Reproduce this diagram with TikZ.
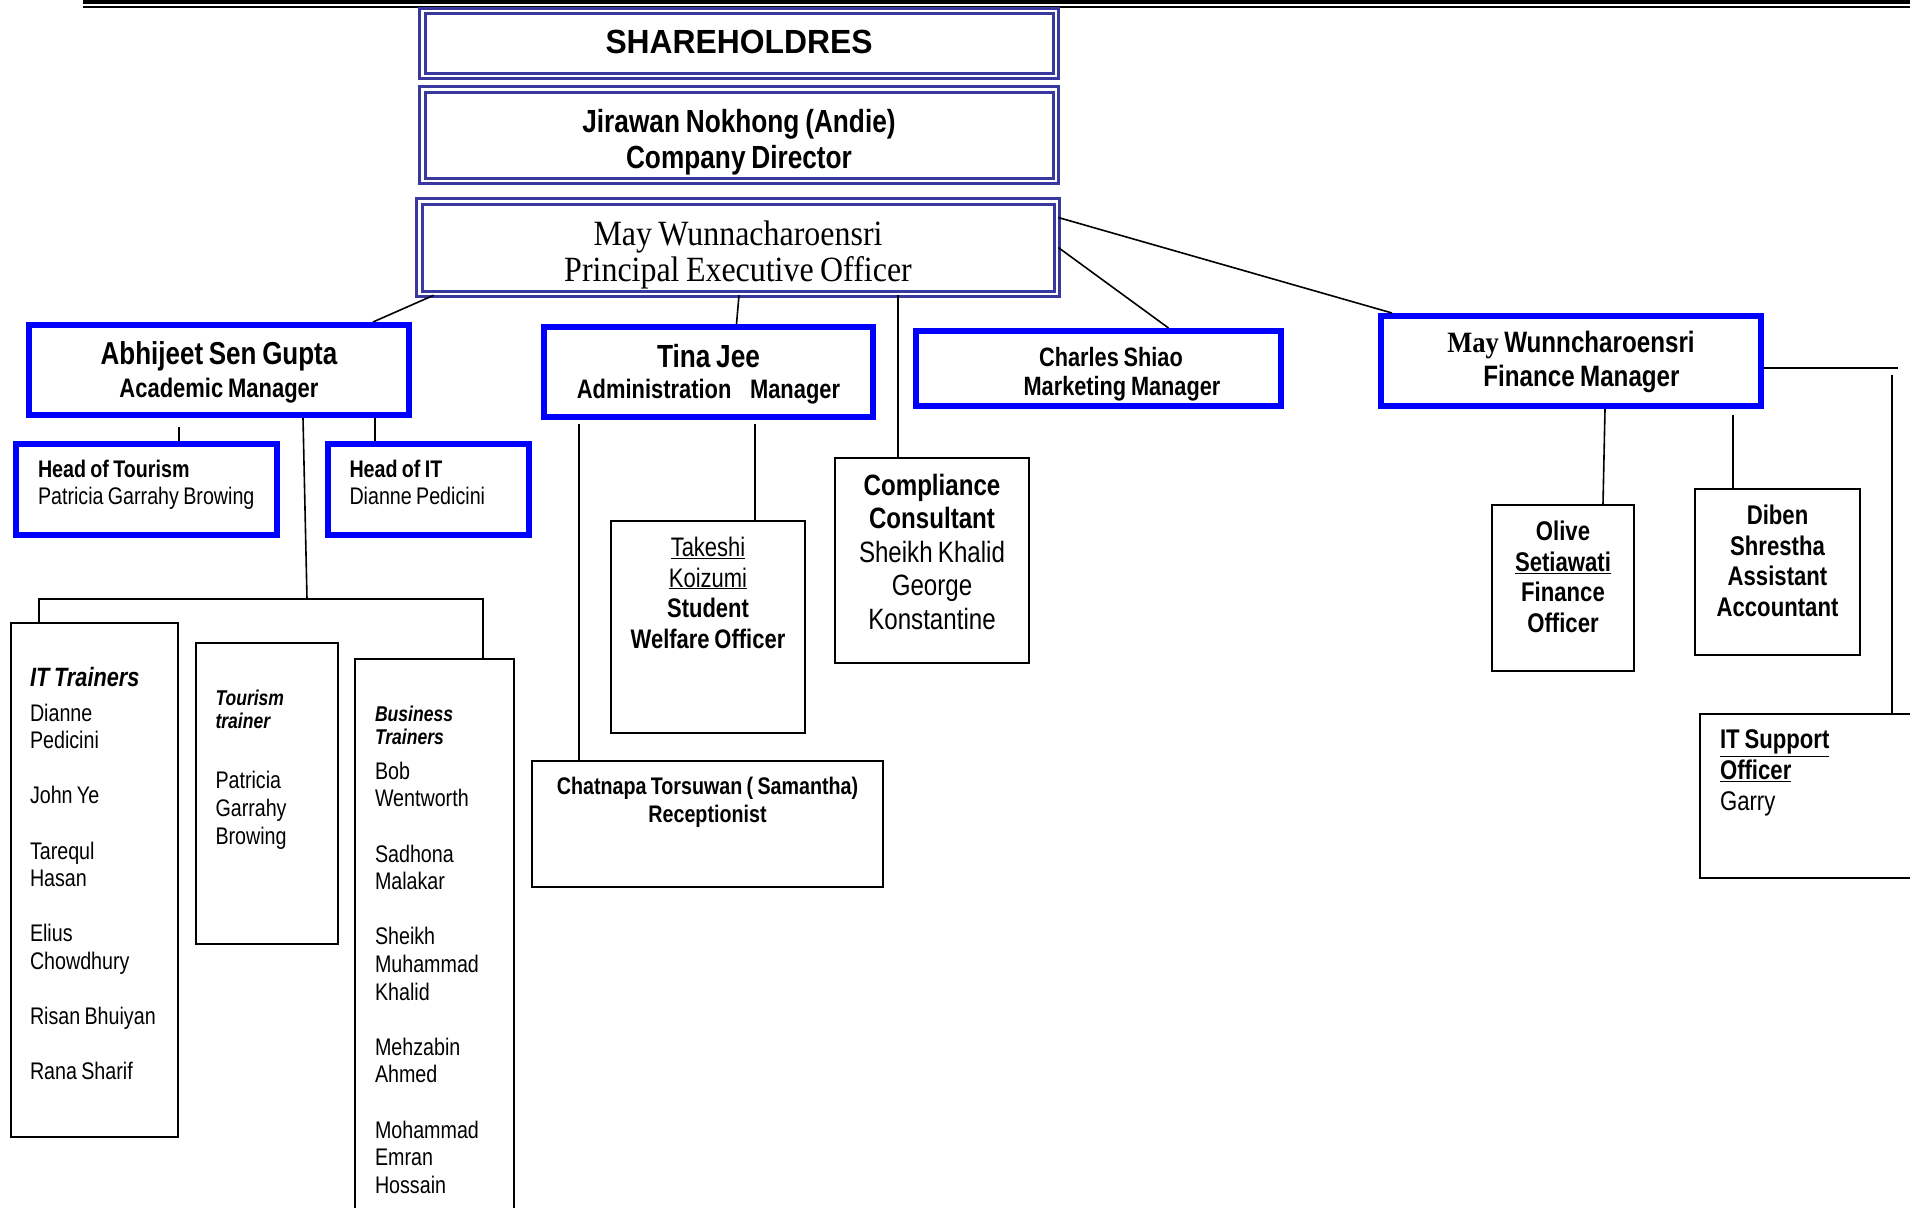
\documentclass[tikz,border=0pt]{standalone}
\usepackage{fontspec}
\setmainfont{Liberation Sans}[FakeStretch=0.82]
\newfontfamily\capsfont{Liberation Sans}[FakeStretch=0.95]
\newfontfamily\timesfont{Liberation Serif}[FakeStretch=0.9]
\usepackage{xcolor}
\definecolor{boardnavy}{RGB}{56,56,158}
\newcommand{\fsz}[2]{\fontsize{#1}{#2}\selectfont\spaceskip=0.18em\relax}

\begin{document}
\begin{tikzpicture}[
  x=1pt, y=-1pt,
  every node/.style={execute at begin node={\spaceskip=0.18em\relax}},
  board/.style={draw=boardnavy, line width=3pt, double=white,
    double distance=2.5pt, inner sep=0pt, align=center},
  headbox/.style={draw=blue, line width=6pt, inner sep=0pt, align=center},
  staffbox/.style={draw=black, line width=2.4pt, inner sep=0pt, align=center},
  listbox/.style={staffbox, align=left},
  link/.style={line width=1.6pt}
]
  \clip (0,0) rectangle (1910,1207);
  \draw[line width=4pt] (83,2) -- (1910,2);
  \draw[line width=2pt] (83,7) -- (1910,7);

  % board
  \node[board, text width=633.5pt, text height=42pt, text depth=22.5pt,
    font=\capsfont\bfseries\fsz{33.5}{36}] (share) at (739,43.5) {SHAREHOLDRES};
  \node[board, text width=633.5pt, text height=43pt, text depth=48.5pt,
    font=\bfseries\fsz{32}{36.5}] (dir) at (739,135)
    {Jirawan Nokhong (Andie)\\Company Director};
  \node[board, text width=637.5pt, text height=44pt, text depth=48.5pt,
    font=\timesfont\fsz{35.5}{36.5}] (peo) at (738,247.5)
    {May Wunnacharoensri\\Principal Executive Officer};

  % managers
  \node[headbox, text width=380pt, text height=39pt, text depth=51pt,
    font=\bfseries\fsz{26.8}{33}] (acad) at (219,370)
    {{\fsz{31.7}{33}Abhijeet Sen Gupta}\\Academic Manager};
  \node[headbox, text width=329pt, text height=40pt, text depth=50pt,
    font=\bfseries\fsz{26.7}{31}] (tina) at (708.5,372)
    {{\fsz{32}{31}Tina Jee}\\Administration\hspace{0.7em}Manager};
  \node[headbox, text width=365pt, text height=35.5pt, text depth=39.5pt,
    font=\bfseries\fsz{26.5}{29}] (charles) at (1098.5,368.5)
    {\hspace*{25pt}Charles Shiao\\\hspace*{47pt}Marketing Manager};
  \node[headbox, text width=380pt, text height=36.5pt, text depth=53.5pt,
    font=\bfseries\fsz{29.5}{34}] (finmgr) at (1571,361)
    {{\timesfont May} Wunncharoensri\\\hspace*{21pt}Finance Manager};

  \node[headbox, align=left, inner xsep=22pt, text width=217pt,
    text height=33.5pt, text depth=57.5pt, font=\fsz{24}{27}] (hot) at (146.5,489.5)
    {\textbf{Head of Tourism}\\\mbox{Patricia Garrahy Browing}};
  \node[headbox, align=left, inner xsep=21.5pt, text width=158pt,
    text height=33.5pt, text depth=57.5pt, font=\fsz{24}{27}] (hoit) at (428.5,489.5)
    {\textbf{Head of IT}\\Dianne Pedicini};

  % trainers
  \node[listbox, inner xsep=19pt, text width=129pt, text height=63.5pt,
    text depth=450.5pt, font=\fsz{24}{27.6}] (ittrain) at (94.5,880)
    {{\bfseries\itshape\fsz{26.5}{27.6}IT Trainers}\\[6.9pt]Dianne\\Pedicini\\[27.6pt]
     \mbox{John Ye}\\[27.6pt]Tarequl\\Hasan\\[27.6pt]Elius\\Chowdhury\\[27.6pt]
     \mbox{Risan Bhuiyan}\\[27.6pt]\mbox{Rana Sharif}};
  \node[listbox, inner xsep=19.5pt, text width=103pt, text height=62.7pt,
    text depth=238.3pt, font=\fsz{24}{27.6}] (tourtrain) at (267,793.5)
    {{\bfseries\itshape\fsz{21.4}{27.6}Tourism\\[-4.6pt]trainer}\\[32.6pt]
     Patricia\\Garrahy\\Browing};
  \node[listbox, inner xsep=20pt, text width=119pt, text height=62pt,
    text depth=538pt, font=\fsz{24}{27.6}] (bustrain) at (434.5,959.25)
    {{\bfseries\itshape\fsz{21.4}{27.6}Business\\[-4.6pt]Trainers}\\[7.4pt]
     Bob\\Wentworth\\[27.6pt]Sadhona\\Malakar\\[27.6pt]Sheikh\\Muhammad\\Khalid\\[27.6pt]
     Mehzabin\\Ahmed\\[27.6pt]Mohammad\\Emran\\Hossain};

  % staff
  \node[staffbox, text width=194pt, text height=35.5pt, text depth=176.5pt,
    font=\fsz{26.8}{30.5}] (takeshi) at (708,627)
    {\underline{Takeshi}\\\underline{Koizumi}\\\textbf{Student}\\\textbf{Welfare Officer}};
  \node[staffbox, text width=194pt, text height=37.3pt, text depth=167.7pt,
    font=\fsz{29.4}{33.5}] (compl) at (932,560.5)
    {\textbf{Compliance}\\\textbf{Consultant}\\Sheikh Khalid\\George\\Konstantine};
  \node[staffbox, text width=351pt, text height=33pt, text depth=93pt,
    font=\bfseries\fsz{24}{28}] (recep) at (707.5,824)
    {Chatnapa Torsuwan ( Samantha)\\Receptionist};
  \node[staffbox, text width=142pt, text height=35.7pt, text depth=130.3pt,
    font=\bfseries\fsz{27}{30.5}] (olive) at (1563,588)
    {Olive\\\underline{Setiawati}\\Finance\\Officer};
  \node[staffbox, text width=165pt, text height=35.9pt, text depth=130.1pt,
    font=\bfseries\fsz{27}{30.5}] (diben) at (1777.5,572)
    {Diben\\Shrestha\\Assistant\\Accountant};
  \node[listbox, inner xsep=20pt, text width=219pt, text height=34.9pt,
    text depth=129.1pt, font=\bfseries\fsz{27}{31}] (itsup) at (1829.5,796)
    {\underline{IT Support}\\\underline{Officer}\\{\mdseries Garry}};

  % links
  \draw[link] ([xshift=16pt]peo.south west) -- ([xshift=-39pt]acad.north east);
  \draw[link] ([xshift=1pt]peo.south) -- ([xshift=28pt]tina.north);
  \draw[link] ([xshift=160pt]peo.south) -- ([xshift=-34pt]compl.north);
  \draw[link] ([yshift=30pt]peo.east) -- ([xshift=14pt]finmgr.north west);
  \draw[link] (peo.east) -- ([xshift=70pt]charles.north);

  \draw[link] ([xshift=-40pt,yshift=-9pt]acad.south) -- ([xshift=32.5pt]hot.north);
  \draw[link] ([xshift=156pt]acad.south) -- ([xshift=-53.5pt]hoit.north);
  \coordinate (tjoin) at (307,599);
  \draw[link] ([xshift=84pt]acad.south) -- (tjoin);
  \draw[link] ([xshift=-55.5pt]ittrain.north) |- (tjoin) -| ([xshift=48.5pt]bustrain.north);

  \draw[link] ([xshift=-129.5pt,yshift=-4pt]tina.south) -- ([xshift=-128.5pt]recep.north);
  \draw[link] ([xshift=46.5pt,yshift=-4pt]tina.south) -- ([xshift=47pt]takeshi.north);

  \draw[link] ([xshift=34pt]finmgr.south) -- ([xshift=40pt]olive.north);
  \draw[link] ([xshift=162pt,yshift=-6pt]finmgr.south) -- ([xshift=-44.5pt]diben.north);
  \draw[link] ([yshift=-7pt]finmgr.east) -- ++(134,0);
  \draw[link] ([xshift=62.5pt]itsup.north) -- ++(0,-338);
\end{tikzpicture}
\end{document}
